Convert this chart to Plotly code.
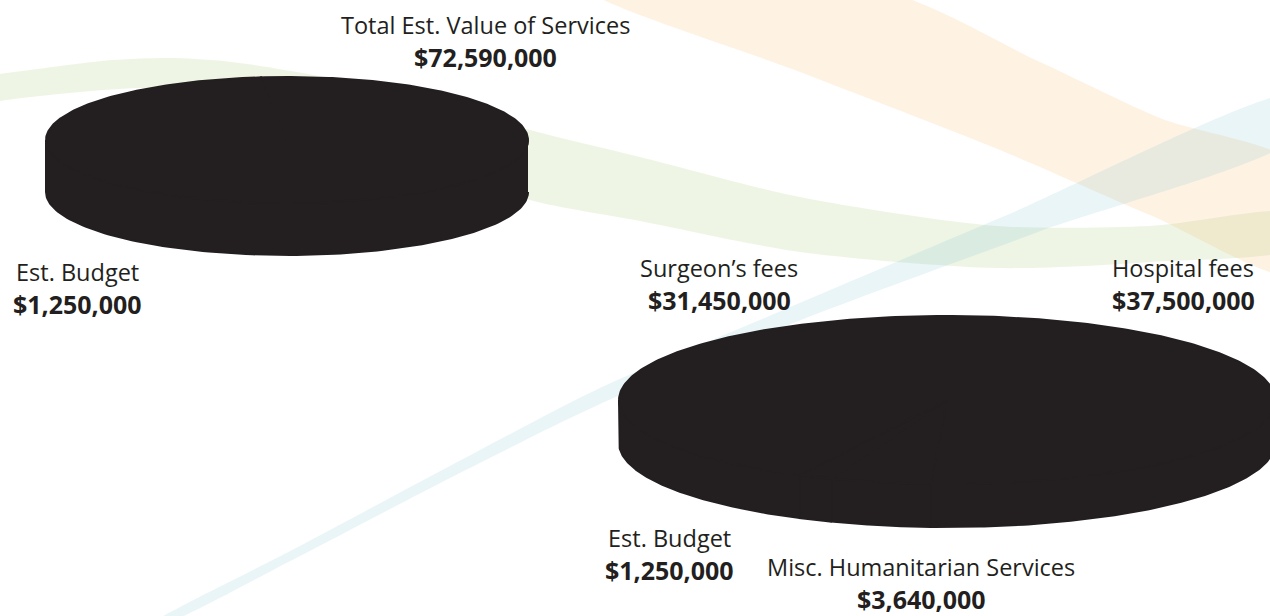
import numpy as np
import plotly.graph_objects as go

# ---------------- data ----------------
pie1_labels = ["Total Est. Value of Services", "Est. Budget"]
pie1_values = [72590000, 1250000]

pie2_labels = ["Hospital fees", "Misc. Humanitarian Services", "Est. Budget", "Surgeon’s fees"]
pie2_values = [37500000, 3640000, 1250000, 31450000]

# ---------------- styling ----------------
W, H = 1270, 616
DISC = "#231f20"
TXT = "#231f20"
FONT = "Open Sans"

fig = go.Figure()

# ---- decorative background ribbons (not data) ----
ribbons = [
    # green
    dict(top=[(-30, 78), (0, 74), (30, 70), (113, 60), (175, 58), (232, 62), (313, 75),
              (420, 98), (530, 130), (640, 157), (800, 197), (997, 226), (1150, 226), (1300, 214)],
         bot=[(1300, 246), (1150, 262), (997, 268), (800, 252), (640, 221), (530, 200),
              (420, 160), (313, 120), (232, 100), (150, 88), (30, 97), (0, 101), (-30, 106)],
         color="rgba(140,190,80,0.15)"),
    # orange
    dict(top=[(590, -10), (800, 72), (1000, 150), (1150, 215), (1300, 276)],
         bot=[(1300, 168), (1160, 118), (1040, 62), (880, -10)],
         color="rgba(250,170,70,0.15)"),
    # blue
    dict(top=[(150, 625), (300, 546), (450, 466), (600, 388), (760, 320), (1000, 218), (1300, 94)],
         bot=[(1300, 134), (1038, 232), (801, 320), (600, 404), (450, 478), (300, 556), (162, 625)],
         color="rgba(120,195,205,0.16)"),
]
for r in ribbons:
    pts = r["top"] + r["bot"]
    fig.add_trace(go.Scatter(
        x=[p[0] for p in pts] + [pts[0][0]], y=[p[1] for p in pts] + [pts[0][1]],
        mode="lines", line=dict(width=0, shape="spline", smoothing=0.8),
        fill="toself", fillcolor=r["color"], hoverinfo="skip", showlegend=False))


# ---- 3D discs drawn from the pie values ----
def add_disc(values, cx, cy, rx, ry, depth, start_deg=-90):
    total = float(sum(values))
    cum = np.concatenate([[0.0], np.cumsum(values) / total])
    ang = np.deg2rad(start_deg) + 2 * np.pi * cum
    sides, tops = [], []
    for i in range(len(values)):
        a0, a1 = ang[i], ang[i + 1]
        # side walls: only the front half (sin > 0 in y-down coordinates)
        for k in range(-2, 3):
            s, e = max(a0, 2 * np.pi * k), min(a1, 2 * np.pi * k + np.pi)
            if e > s:
                t = np.linspace(s, e, 120)
                xs = cx + rx * np.cos(t)
                ys = cy + ry * np.sin(t)
                sides.append((np.concatenate([xs, xs[::-1]]),
                              np.concatenate([ys, (ys + depth)[::-1]])))
        t = np.linspace(a0, a1, max(8, int(400 * (a1 - a0) / (2 * np.pi))))
        xs = np.concatenate([[cx], cx + rx * np.cos(t), [cx]])
        ys = np.concatenate([[cy], cy + ry * np.sin(t), [cy]])
        tops.append((xs, ys))
    for xs, ys in sides + tops:
        fig.add_trace(go.Scatter(
            x=xs, y=ys, mode="lines", line=dict(width=2, color=DISC),
            fill="toself", fillcolor=DISC, hoverinfo="skip", showlegend=False))


add_disc(pie1_values, cx=287, cy=140, rx=241, ry=63, depth=52)
add_disc(pie2_values, cx=947, cy=400, rx=328, ry=84, depth=43)


def money(v):
    return "${:,}".format(v)


# ---- labels ----
label_pos = [
    # (text, value, x, y_label, y_value)
    (pie1_labels[0], pie1_values[0], 485, 25, 57),
    (pie1_labels[1], pie1_values[1], 77, 272, 304),
    (pie2_labels[3], pie2_values[3], 719, 268, 300),
    (pie2_labels[0], pie2_values[0], 1183, 268, 300),
    (pie2_labels[2], pie2_values[2], 669, 538, 570),
    (pie2_labels[1], pie2_values[1], 921, 567, 599),
]
for lab, val, x, yl, yv in label_pos:
    fig.add_annotation(x=x, y=yl, text=lab, showarrow=False, xanchor="center", yanchor="middle",
                       borderpad=0, font=dict(family=FONT, size=23.5, color=TXT))
    fig.add_annotation(x=x, y=yv, text="<b>" + money(val) + "</b>", showarrow=False,
                       xanchor="center", yanchor="middle", borderpad=0,
                       font=dict(family=FONT, size=25, color=TXT))

fig.update_layout(
    width=W, height=H, margin=dict(l=0, r=0, t=0, b=0),
    paper_bgcolor="white", plot_bgcolor="white", showlegend=False,
    xaxis=dict(range=[0, W], visible=False, fixedrange=True),
    yaxis=dict(range=[H, 0], visible=False, fixedrange=True),
)

fig.write_html("out.html", config={"displayModeBar": False},
               post_script="document.body.style.margin='0px';document.body.style.overflow='hidden';")
